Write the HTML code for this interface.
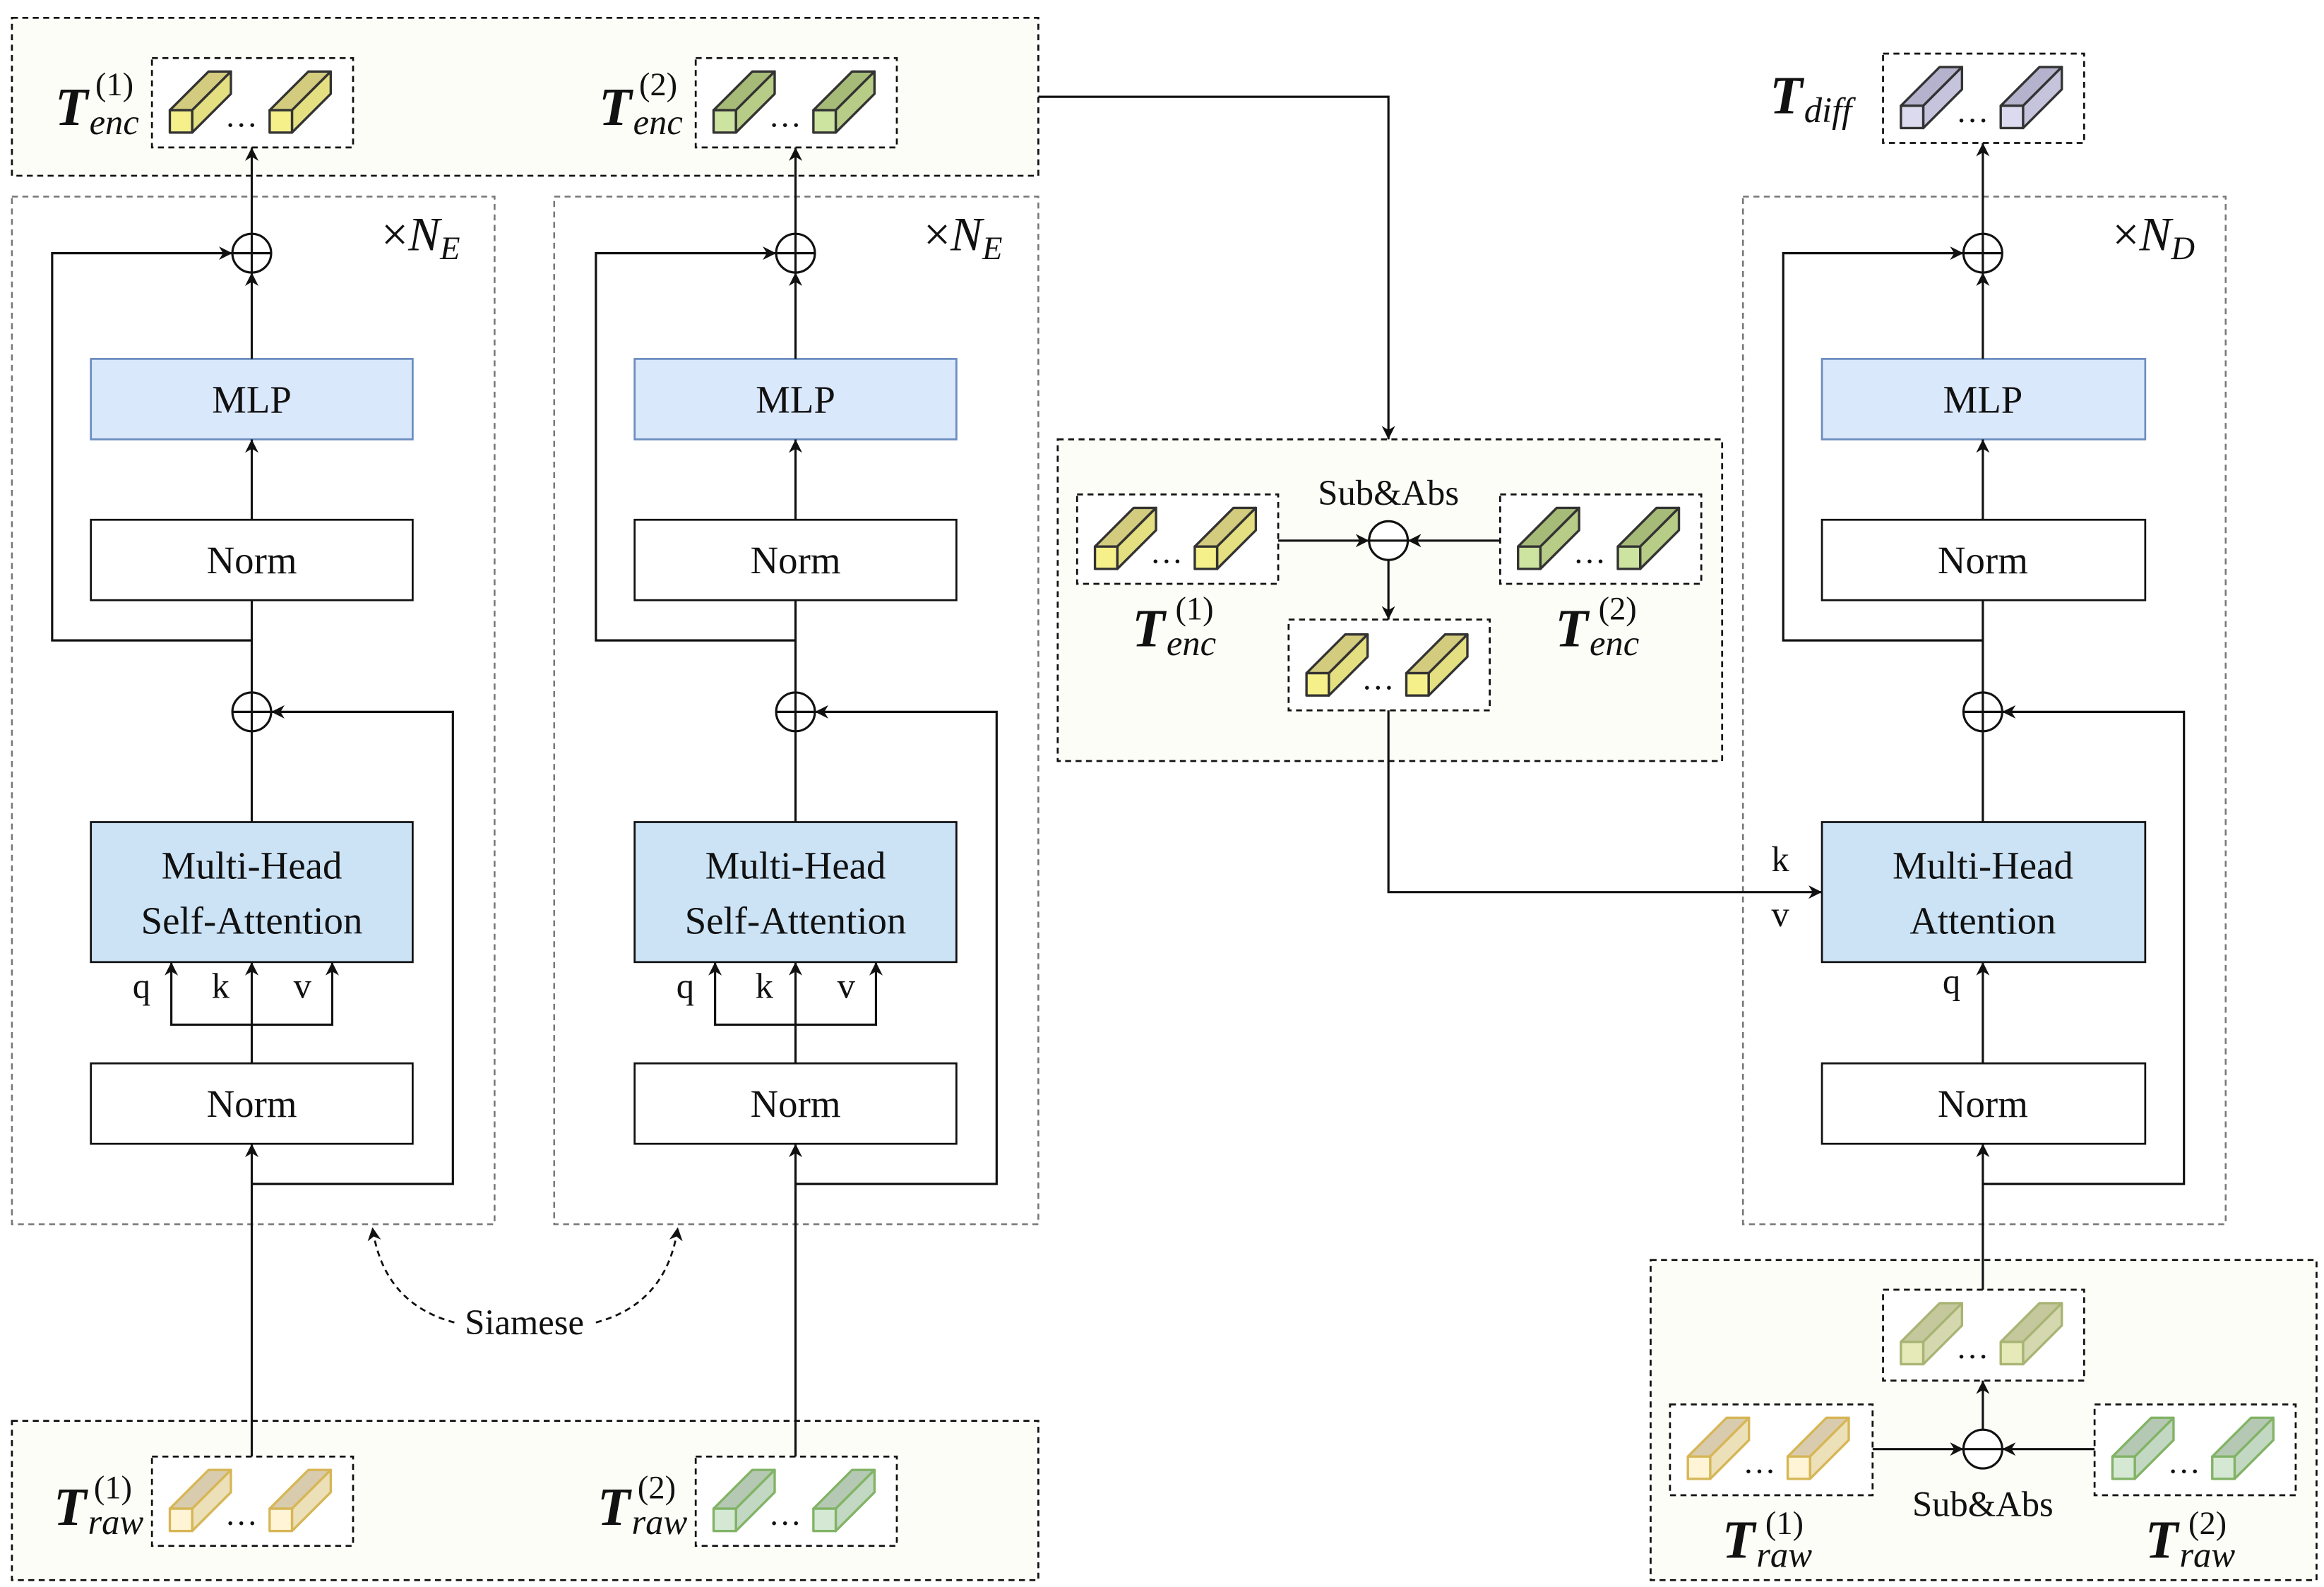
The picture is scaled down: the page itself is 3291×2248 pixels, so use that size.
<!DOCTYPE html>
<html><head><meta charset="utf-8"><style>html,body{margin:0;padding:0;background:#fff}svg{display:block}</style></head>
<body>
<svg width="3291" height="2248" viewBox="0 0 1560 1065.6" xmlns="http://www.w3.org/2000/svg" font-family="Liberation Serif, serif">
<defs>
<marker id="ar" viewBox="0 0 10 10" refX="10" refY="5" markerWidth="9" markerHeight="9" markerUnits="userSpaceOnUse" orient="auto"><path d="M0,0 L10,5 L0,10 L3,5 z" fill="#111"/></marker>
<g id="cY" stroke="#333" stroke-width="1.6" stroke-linejoin="round"><path d="M0,-15 L26,-41 L41,-41 L15,-15z" fill="#d3cb7d"/><path d="M15,-15 L41,-41 L41,-26 L15,0z" fill="#e4df80"/><rect x="0" y="-15" width="15" height="15" fill="#f5f08a"/></g>
<g id="cG" stroke="#333" stroke-width="1.6" stroke-linejoin="round"><path d="M0,-15 L26,-41 L41,-41 L15,-15z" fill="#a7bb78"/><path d="M15,-15 L41,-41 L41,-26 L15,0z" fill="#b7cc86"/><rect x="0" y="-15" width="15" height="15" fill="#cde3a0"/></g>
<g id="cP" stroke="#333" stroke-width="1.6" stroke-linejoin="round"><path d="M0,-15 L26,-41 L41,-41 L15,-15z" fill="#b4b2cc"/><path d="M15,-15 L41,-41 L41,-26 L15,0z" fill="#c6c4dc"/><rect x="0" y="-15" width="15" height="15" fill="#dcdaee"/></g>
<g id="cRY" stroke="#d6b656" stroke-width="1.6" stroke-linejoin="round"><path d="M0,-15 L26,-41 L41,-41 L15,-15z" fill="#d9ccae"/><path d="M15,-15 L41,-41 L41,-26 L15,0z" fill="#ece0b8"/><rect x="0" y="-15" width="15" height="15" fill="#fff5d6"/></g>
<g id="cRG" stroke="#82b366" stroke-width="1.6" stroke-linejoin="round"><path d="M0,-15 L26,-41 L41,-41 L15,-15z" fill="#b5c8b4"/><path d="M15,-15 L41,-41 L41,-26 L15,0z" fill="#c3d8c2"/><rect x="0" y="-15" width="15" height="15" fill="#d5e8d4"/></g>
<g id="cD" stroke="#a8b474" stroke-width="1.6" stroke-linejoin="round"><path d="M0,-15 L26,-41 L41,-41 L15,-15z" fill="#c5c89c"/><path d="M15,-15 L41,-41 L41,-26 L15,0z" fill="#d5d8ae"/><rect x="0" y="-15" width="15" height="15" fill="#e6e9b8"/></g>
</defs>
<rect width="1560" height="1066" fill="#fff"/>
<g fill="#fdfdf8" stroke="#111" stroke-width="1.3" stroke-dasharray="4,3">
<rect x="8" y="12" width="689" height="106"/>
<rect x="8" y="954" width="689" height="107"/>
<rect x="710" y="295" width="446" height="216"/>
<rect x="1108" y="846" width="447" height="215"/>
</g>
<g fill="none" stroke="#777" stroke-width="1.2" stroke-dasharray="4,3">
<rect x="8" y="132" width="324" height="690"/>
<rect x="372" y="132" width="325" height="690"/>
<rect x="1170" y="132" width="324" height="690"/>
</g>
<g fill="#fff" stroke="#111" stroke-width="1.3" stroke-dasharray="4,3">
<rect x="102" y="39" width="135" height="60"/><rect x="467" y="39" width="135" height="60"/>
<rect x="1264" y="36" width="135" height="60"/>
<rect x="102" y="978" width="135" height="60"/><rect x="467" y="978" width="135" height="60"/>
<rect x="723" y="332" width="135" height="60"/><rect x="1007" y="332" width="135" height="60"/>
<rect x="865" y="416" width="135" height="61"/>
<rect x="1264" y="866" width="135" height="61"/>
<rect x="1121" y="943" width="136" height="61"/><rect x="1406" y="943" width="135" height="61"/>
</g>
<g>
<use href="#cY" x="114" y="89"/><use href="#cY" x="181" y="89"/>
<use href="#cG" x="479" y="89"/><use href="#cG" x="546" y="89"/>
<use href="#cP" x="1276" y="86"/><use href="#cP" x="1343" y="86"/>
<use href="#cRY" x="114" y="1028"/><use href="#cRY" x="181" y="1028"/>
<use href="#cRG" x="479" y="1028"/><use href="#cRG" x="546" y="1028"/>
<use href="#cY" x="735" y="382"/><use href="#cY" x="802" y="382"/>
<use href="#cG" x="1019" y="382"/><use href="#cG" x="1086" y="382"/>
<use href="#cY" x="877" y="467"/><use href="#cY" x="944" y="467"/>
<use href="#cD" x="1276" y="916"/><use href="#cD" x="1343" y="916"/>
<use href="#cRY" x="1133" y="993"/><use href="#cRY" x="1200" y="993"/>
<use href="#cRG" x="1418" y="993"/><use href="#cRG" x="1485" y="993"/>
</g>
<g font-size="22" fill="#111" text-anchor="middle">
<text x="162" y="85">…</text><text x="527" y="85">…</text><text x="1324" y="82">…</text>
<text x="162" y="1024">…</text><text x="527" y="1024">…</text>
<text x="783" y="378">…</text><text x="1067" y="378">…</text><text x="925" y="463">…</text>
<text x="1324" y="912">…</text><text x="1181" y="989">…</text><text x="1466" y="989">…</text>
</g>
<g stroke-width="1.3">
<rect x="61" y="241" width="216" height="54" fill="#dae8fc" stroke="#6c8ebf"/>
<rect x="426" y="241" width="216" height="54" fill="#dae8fc" stroke="#6c8ebf"/>
<rect x="1223" y="241" width="217" height="54" fill="#dae8fc" stroke="#6c8ebf"/>
<rect x="61" y="349" width="216" height="54" fill="#fff" stroke="#111"/>
<rect x="426" y="349" width="216" height="54" fill="#fff" stroke="#111"/>
<rect x="1223" y="349" width="217" height="54" fill="#fff" stroke="#111"/>
<rect x="61" y="552" width="216" height="94" fill="#cce3f6" stroke="#111"/>
<rect x="426" y="552" width="216" height="94" fill="#cce3f6" stroke="#111"/>
<rect x="1223" y="552" width="217" height="94" fill="#cce3f6" stroke="#111"/>
<rect x="61" y="714" width="216" height="54" fill="#fff" stroke="#111"/>
<rect x="426" y="714" width="216" height="54" fill="#fff" stroke="#111"/>
<rect x="1223" y="714" width="217" height="54" fill="#fff" stroke="#111"/>
</g>
<g font-size="26" fill="#111" text-anchor="middle">
<text x="169" y="277">MLP</text><text x="534" y="277">MLP</text><text x="1331" y="277">MLP</text>
<text x="169" y="385">Norm</text><text x="534" y="385">Norm</text><text x="1331" y="385">Norm</text>
<text x="169" y="750">Norm</text><text x="534" y="750">Norm</text><text x="1331" y="750">Norm</text>
<text x="169" y="590">Multi-Head</text><text x="169" y="627">Self-Attention</text>
<text x="534" y="590">Multi-Head</text><text x="534" y="627">Self-Attention</text>
<text x="1331" y="590">Multi-Head</text><text x="1331" y="627">Attention</text>
</g>
<g font-size="24" fill="#111" text-anchor="middle">
<text x="95" y="670">q</text><text x="148" y="670">k</text><text x="203" y="670">v</text>
<text x="460" y="670">q</text><text x="513" y="670">k</text><text x="568" y="670">v</text>
<text x="1310" y="667">q</text>
<text x="1195" y="585">k</text><text x="1195" y="622">v</text>
<text x="932" y="339">Sub&amp;Abs</text>
<text x="1331" y="1018">Sub&amp;Abs</text>
<text x="352" y="896">Siamese</text>
</g>
<g stroke="#111" stroke-width="1.5" fill="none">
<path d="M169,552V491M169,465V403M534,552V491M534,465V403M1331,552V491M1331,465V403"/>
</g>
<g stroke="#111" stroke-width="1.5" fill="none" marker-end="url(#ar)">
<path d="M169,978V768"/><path d="M534,978V768"/>
<path d="M169,349V295"/><path d="M534,349V295"/>
<path d="M169,241V183"/><path d="M534,241V183"/>
<path d="M169,157V99"/><path d="M534,157V99"/>
<path d="M169,430H35V170H156"/><path d="M534,430H400V170H521"/>
<path d="M169,795H304V478H182"/><path d="M534,795H669V478H547"/>
<path d="M169,714V646"/><path d="M534,714V646"/>
<path d="M169,688H115V646"/><path d="M169,688H223V646"/>
<path d="M534,688H480V646"/><path d="M534,688H588V646"/>
<path d="M1331,714V646"/>
<path d="M1331,349V295"/><path d="M1331,241V183"/><path d="M1331,157V96"/>
<path d="M1331,430H1197V170H1318"/><path d="M1331,795H1466V478H1344"/>
<path d="M1331,866V768"/>
<path d="M697,65H932V295"/>
<path d="M858,363H919"/><path d="M1007,363H945"/>
<path d="M932,376V416"/>
<path d="M932,477V599H1223"/>
<path d="M1331,960V927"/>
<path d="M1257,973H1318"/><path d="M1406,973H1344"/>
</g>
<g stroke="#111" stroke-width="1.3" fill="none" stroke-dasharray="4,3">
<path d="M305,888 C275,880 255,860 250,824" marker-end="url(#ar)"/>
<path d="M400,888 C430,880 450,860 455,824" marker-end="url(#ar)"/>
</g>
<g fill="#fff" stroke="#111" stroke-width="1.5">
<circle cx="169" cy="170" r="13"/><circle cx="534" cy="170" r="13"/><circle cx="1331" cy="170" r="13"/>
<circle cx="169" cy="478" r="13"/><circle cx="534" cy="478" r="13"/><circle cx="1331" cy="478" r="13"/>
<circle cx="932" cy="363" r="13"/><circle cx="1331" cy="973" r="13"/>
</g>
<g stroke="#111" stroke-width="1.5" fill="none">
<path d="M156,170h26M169,157v26M521,170h26M534,157v26M1318,170h26M1331,157v26"/>
<path d="M156,478h26M169,465v26M521,478h26M534,465v26M1318,478h26M1331,465v26"/>
<path d="M919,363h26M1318,973h26"/>
</g>
<g fill="#111" font-style="italic" font-weight="bold">
<g font-size="36">
<text x="37" y="84">T</text><text x="402" y="84">T</text>
<text x="1188" y="76">T</text>
<text x="36" y="1024">T</text><text x="401" y="1024">T</text>
<text x="760" y="434">T</text><text x="1044" y="434">T</text>
<text x="1156" y="1046">T</text><text x="1440" y="1046">T</text>
</g>
<g font-size="24" font-weight="normal">
<text x="60" y="90">enc</text><text x="425" y="90">enc</text>
<text x="1211" y="82">diff</text>
<text x="59" y="1030">raw</text><text x="424" y="1030">raw</text>
<text x="783" y="440">enc</text><text x="1067" y="440">enc</text>
<text x="1179" y="1052">raw</text><text x="1463" y="1052">raw</text>
</g>
<g font-size="22" font-weight="normal" font-style="normal">
<text x="64" y="64">(1)</text><text x="429" y="64">(2)</text>
<text x="63" y="1006">(1)</text><text x="428" y="1006">(2)</text>
<text x="789" y="416">(1)</text><text x="1073" y="416">(2)</text>
<text x="1185" y="1030">(1)</text><text x="1469" y="1030">(2)</text>
</g>
<g font-size="32" font-weight="normal"><text x="256" y="168"><tspan font-style="normal">×</tspan>N<tspan font-size="22" dy="6">E</tspan></text>
<text x="620" y="168"><tspan font-style="normal">×</tspan>N<tspan font-size="22" dy="6">E</tspan></text>
<text x="1418" y="168"><tspan font-style="normal">×</tspan>N<tspan font-size="22" dy="6">D</tspan></text></g>
</g>
</svg>
</body></html>
